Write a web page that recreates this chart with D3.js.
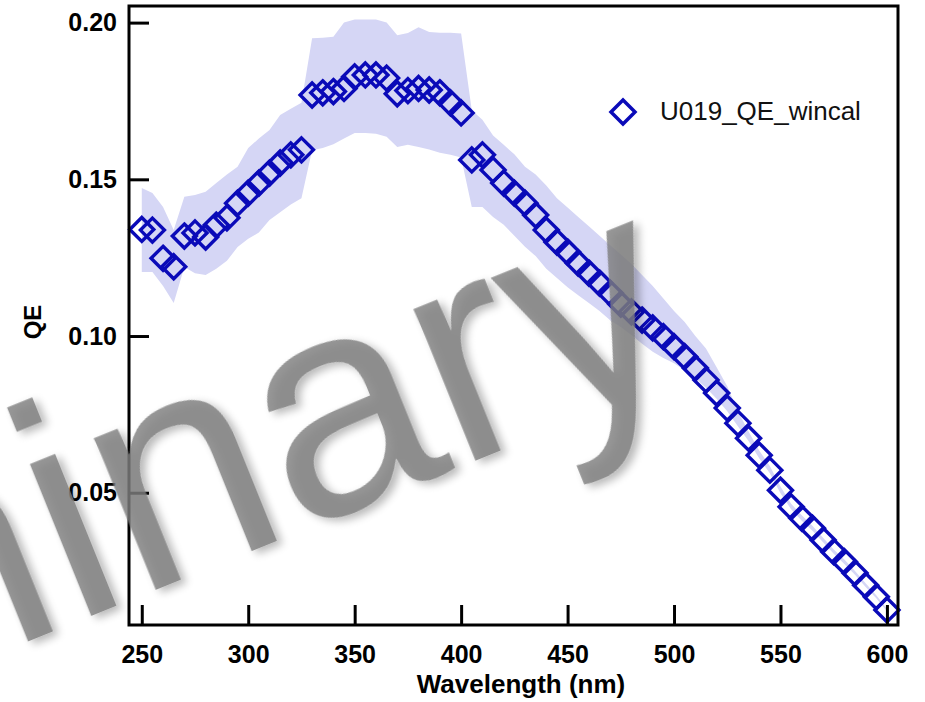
<!DOCTYPE html>
<html>
<head>
<meta charset="utf-8">
<script src="https://cdn.jsdelivr.net/npm/d3@7"></script>
<style>
  body { margin: 0; background: #fff; }
  svg { display: block; font-family: "Liberation Sans", Arial, sans-serif; }
</style>
</head>
<body>
<div id="chart"></div>
<script>
const wavelength = [250,255,260,265,270,275,280,285,290,295,300,305,310,315,320,325,330,335,340,345,
  350,355,360,365,370,375,380,385,390,395,400,405,410,415,420,425,430,435,440,445,
  450,455,460,465,470,475,480,485,490,495,500,505,510,515,520,525,530,535,540,545,
  550,555,560,565,570,575,580,585,590,595,600];

const qe = [0.1340,0.1338,0.1248,0.1221,0.1319,0.1329,0.1316,0.1354,0.1377,0.1424,
  0.1456,0.1488,0.1520,0.1552,0.1578,0.1594,0.1769,0.1776,0.1780,0.1790,
  0.1827,0.1833,0.1833,0.1823,0.1773,0.1783,0.1790,0.1785,0.1776,0.1744,
  0.1712,0.1562,0.1578,0.1530,0.1488,0.1456,0.1424,0.1386,0.1338,0.1300,
  0.1268,0.1233,0.1201,0.1169,0.1137,0.1102,0.1077,0.1051,0.1026,0.0998,
  0.0966,0.0934,0.0898,0.0860,0.0818,0.0770,0.0722,0.0674,0.0620,0.0572,
  0.0508,0.0455,0.0419,0.0387,0.0349,0.0312,0.0280,0.0244,0.0205,0.0168,0.0126];

const qeUpper = [0.1472,0.1456,0.1412,0.1338,0.1444,0.1450,0.1460,0.1488,0.1515,0.1540,
  0.1600,0.1630,0.1657,0.1705,0.1725,0.1744,0.1950,0.1952,0.1955,0.2000,
  0.2010,0.2010,0.2010,0.2000,0.1960,0.1967,0.1985,0.1970,0.1968,0.1968,
  0.1965,0.1720,0.1690,0.1640,0.1610,0.1580,0.1540,0.1515,0.1480,0.1440,
  0.1410,0.1380,0.1350,0.1320,0.1290,0.1260,0.1230,0.1195,0.1160,0.1120,
  0.1080,0.1045,0.1000,0.0960,0.0900,0.0840,0.0760,0.0695,0.0635,0.0585,
  0.0520,0.0465,0.0428,0.0395,0.0356,0.0319,0.0287,0.0250,0.0211,0.0173,0.0130];

const qeLower = [0.1204,0.1204,0.1160,0.1105,0.1220,0.1200,0.1195,0.1215,0.1240,0.1284,
  0.1310,0.1330,0.1370,0.1395,0.1420,0.1440,0.1593,0.1600,0.1612,0.1630,
  0.1648,0.1648,0.1645,0.1636,0.1603,0.1610,0.1603,0.1595,0.1585,0.1578,
  0.1570,0.1412,0.1412,0.1380,0.1355,0.1320,0.1285,0.1255,0.1215,0.1185,
  0.1156,0.1130,0.1105,0.1080,0.1050,0.1029,0.1003,0.0975,0.0950,0.0930,
  0.0913,0.0890,0.0865,0.0835,0.0800,0.0760,0.0712,0.0665,0.0610,0.0562,
  0.0498,0.0447,0.0411,0.0379,0.0342,0.0305,0.0273,0.0238,0.0199,0.0163,0.0122];

const xTicks = [250,300,350,400,450,500,550,600];
const yTicks = [0.05,0.10,0.15,0.20];
const seriesName = "U019_QE_wincal";

const W = 925, H = 702;
const plotL = 129, plotR = 898, plotT = 6, plotB = 625;

const svg = d3.select("#chart").append("svg")
    .attr("width", W)
    .attr("height", H);

const x = d3.scaleLinear().domain([244, 605.2]).range([plotL, plotR]);
const y = d3.scaleLinear().domain([0.0078, 0.2053]).range([plotB, plotT]);

const data = wavelength.map((w, i) => ({w: w, v: qe[i], hi: qeUpper[i], lo: qeLower[i]}));

// error band
svg.append("path")
    .datum(data)
    .attr("fill", "#d5d6f5")
    .attr("d", d3.area()
        .x(d => x(d.w))
        .y0(d => y(d.lo))
        .y1(d => y(d.hi)));

// markers
const diamond = s => `M0,${-s}L${s},0L0,${s}L${-s},0Z`;
svg.append("g")
  .selectAll("path")
  .data(data)
  .enter()
  .append("path")
    .attr("transform", d => "translate(" + x(d.w) + "," + y(d.v) + ")")
    .attr("d", diamond(12))
    .attr("fill", "none")
    .attr("stroke", "#0a0ab8")
    .attr("stroke-width", 3.4);

// axes
const xAxis = svg.append("g")
    .attr("transform", "translate(0," + plotB + ")")
    .call(d3.axisBottom(x).tickValues(xTicks).tickSize(-20).tickPadding(20));
const yAxis = svg.append("g")
    .attr("transform", "translate(" + plotL + ",0)")
    .call(d3.axisLeft(y).tickValues(yTicks).tickFormat(d3.format(".2f")).tickSize(-20).tickPadding(12));

[xAxis, yAxis].forEach(g => {
  g.select(".domain").remove();
  g.selectAll(".tick line").attr("stroke", "#000").attr("stroke-width", 3);
  g.selectAll(".tick text")
      .attr("fill", "#000")
      .style("font-size", "25px")
      .style("font-weight", "bold")
      .style("font-family", "'Liberation Sans', Arial, sans-serif");
});

// frame
svg.append("rect")
    .attr("x", plotL).attr("y", plotT)
    .attr("width", plotR - plotL).attr("height", plotB - plotT)
    .attr("fill", "none")
    .attr("stroke", "#000")
    .attr("stroke-width", 3);

// axis titles
svg.append("text")
    .attr("x", 521).attr("y", 693)
    .attr("text-anchor", "middle")
    .style("font-size", "26px").style("font-weight", "bold")
    .text("Wavelength (nm)");

svg.append("text")
    .attr("transform", "translate(41,322) rotate(-90)")
    .attr("text-anchor", "middle")
    .style("font-size", "24px").style("font-weight", "bold")
    .text("QE");

// legend
svg.append("path")
    .attr("transform", "translate(623,112)")
    .attr("d", diamond(12))
    .attr("fill", "none")
    .attr("stroke", "#0a0ab8")
    .attr("stroke-width", 3.5);
svg.append("text")
    .attr("x", 660).attr("y", 120)
    .attr("fill", "#111")
    .style("font-size", "26px")
    .text(seriesName);

// watermark
const defs = svg.append("defs");
const f = defs.append("filter").attr("id", "shadow")
    .attr("x", "-20%").attr("y", "-20%").attr("width", "140%").attr("height", "140%");
f.append("feGaussianBlur").attr("in", "SourceAlpha").attr("stdDeviation", 4).attr("result", "b");
f.append("feOffset").attr("in", "b").attr("dx", 4).attr("dy", 5).attr("result", "o");
f.append("feComponentTransfer").attr("in", "o").attr("result", "s")
  .append("feFuncA").attr("type", "linear").attr("slope", 0.35);
const m = f.append("feMerge");
m.append("feMergeNode").attr("in", "s");
m.append("feMergeNode").attr("in", "SourceGraphic");

svg.append("text")
    .attr("transform", "translate(695,372) rotate(-22)")
    .attr("text-anchor", "end")
    .attr("fill", "#7d7d7d")
    .attr("fill-opacity", 0.8)
    .attr("filter", "url(#shadow)")
    .style("font-family", "'Liberation Sans', Arial, sans-serif")
    .style("font-size", "310px")
    .text("Preliminary");
</script>
</body>
</html>
